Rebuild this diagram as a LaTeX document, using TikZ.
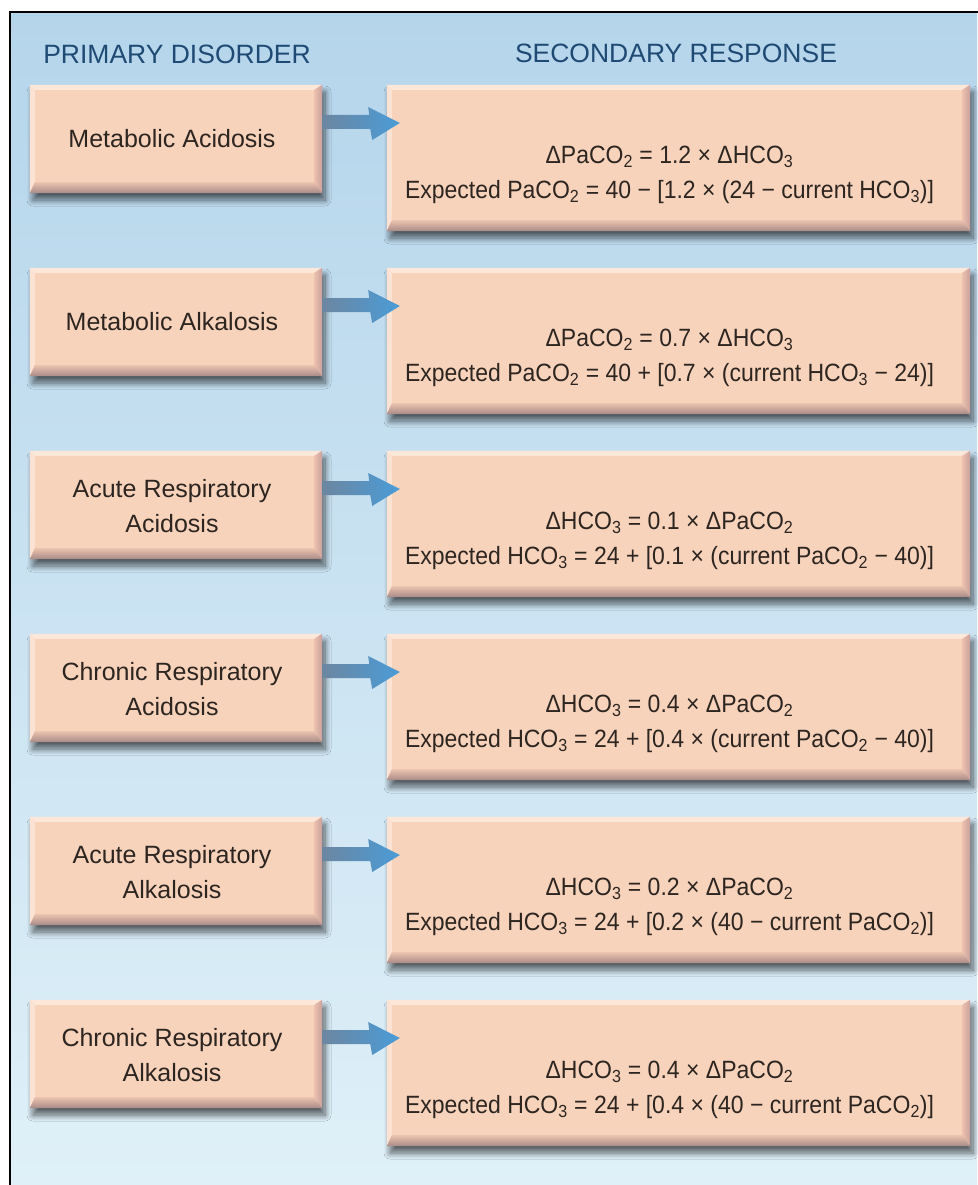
\documentclass[tikz,border=0pt]{standalone}
\usepackage{fontspec}
\setmainfont{Liberation Sans}
\newfontfamily\condfont[FakeStretch=0.92]{Liberation Sans}
\usetikzlibrary{shadows.blur,calc}
\definecolor{bgtop}{HTML}{B5D5EB}
\definecolor{bgbot}{HTML}{DFF0F8}
\definecolor{peach}{HTML}{F7D3BC}
\definecolor{bevT}{HTML}{FCE7D9}
\definecolor{bevL}{HTML}{FBE2D2}
\definecolor{bevRa}{HTML}{EDC2AE}
\definecolor{bevRb}{HTML}{C9A09C}
\definecolor{bevBa}{HTML}{EBC3AE}
\definecolor{bevBb}{HTML}{A98A88}
\definecolor{headc}{HTML}{1F4A74}
\definecolor{txt}{HTML}{2D2520}
\definecolor{arrL}{HTML}{6C86A0}
\definecolor{arrR}{HTML}{4A9CD8}
\tikzset{
  boxbase/.style={fill=peach, inner sep=0pt,
    blur shadow={shadow xshift=3pt, shadow yshift=-7pt, shadow blur radius=6pt, shadow blur steps=12, shadow opacity=60}},
  lbox/.style={boxbase, minimum width=292pt, minimum height=108pt},
  rbox/.style={boxbase, minimum width=583pt, minimum height=146pt},
  ltext/.style={inner sep=0pt, text=txt, align=center, font=\fontsize{25}{35}\selectfont},
  rtext/.style={inner sep=0pt, text=txt, align=center, font=\condfont\fontsize{25}{35}\selectfont},
  head/.style={text=headc, font=\fontsize{26.5}{30}\selectfont, inner sep=0pt},
}
\newcommand\bevel[1]{%
  \fill[bevT] (#1.north west) -- (#1.north east) -- ($(#1.north east)+(-8,5)$) -- ($(#1.north west)+(5,5)$) -- cycle;
  \fill[bevL] (#1.north west) -- ($(#1.north west)+(5,5)$) -- ($(#1.south west)+(5,-11)$) -- (#1.south west) -- cycle;
  \shade[left color=bevRa, right color=bevRb] (#1.north east) -- ($(#1.north east)+(-8,5)$) -- ($(#1.south east)+(-8,-11)$) -- (#1.south east) -- cycle;
  \shade[top color=bevBa, bottom color=bevBb] (#1.south west) -- ($(#1.south west)+(5,-11)$) -- ($(#1.south east)+(-8,-11)$) -- (#1.south east) -- cycle;
}
\newcommand\conn[3]{%
  \coordinate (#3) at ($(#1.east)+(0,-17)$);
  \shade[left color=arrL, right color=arrR]
    ($(#3)+(0,-7)$) -- ($(#3)+(47,-7)$) -- ($(#3)+(46,-15)$) -- ($(#2.west |- #3)+(13,1)$)
    -- ($(#3)+(50,18)$) -- ($(#3)+(48,7)$) -- ($(#3)+(0,7)$) -- cycle;
}
\newcommand\sub[1]{\textsubscript{#1}}
\begin{document}
\begin{tikzpicture}[x=1pt,y=-1pt]
\useasboundingbox (0,0) rectangle (977,1185);
\fill[white] (0,0) rectangle (977,1185);
\shade[top color=bgtop, bottom color=bgbot] (10,12) rectangle (977,1185);
\draw[line width=2pt, line cap=rect] (10,1185) -- (10,12) -- (977,12);

\node[head] (h1) at (177,54) {PRIMARY DISORDER};
\node[head] (h2) at (676,53) {SECONDARY RESPONSE};

% row 1
\node[lbox] (d1) at (176,139) {};
\node[rbox] (r1) at (678.5,158) {};
% row 2
\node[lbox] (d2) at (176,322) {};
\node[rbox] (r2) at (678.5,341) {};
% row 3
\node[lbox] (d3) at (176,505) {};
\node[rbox] (r3) at (678.5,524) {};
% row 4
\node[lbox] (d4) at (176,688) {};
\node[rbox] (r4) at (678.5,707) {};
% row 5
\node[lbox] (d5) at (176,871) {};
\node[rbox] (r5) at (678.5,890) {};
% row 6
\node[lbox] (d6) at (176,1054) {};
\node[rbox] (r6) at (678.5,1073) {};

\foreach \n in {d1,r1,d2,r2,d3,r3,d4,r4,d5,r5,d6,r6} {\bevel{\n}}

\node[ltext] (t1) at ($(d1.center)+(-4,0)$) {Metabolic Acidosis};
\node[ltext] (t2) at ($(d2.center)+(-4,0)$) {Metabolic Alkalosis};
\node[ltext] (t3) at ($(d3.center)+(-4,1)$) {Acute Respiratory\\Acidosis};
\node[ltext] (t4) at ($(d4.center)+(-4,1)$) {Chronic Respiratory\\Acidosis};
\node[ltext] (t5) at ($(d5.center)+(-4,1)$) {Acute Respiratory\\Alkalosis};
\node[ltext] (t6) at ($(d6.center)+(-4,1)$) {Chronic Respiratory\\Alkalosis};

\node[rtext] (e1) at ($(r1.center)+(-9,17)$) {ΔPaCO\sub{2} = 1.2 × ΔHCO\sub{3}\\Expected PaCO\sub{2} = 40 − [1.2 × (24 − current HCO\sub{3})]};
\node[rtext] (e2) at ($(r2.center)+(-9,17)$) {ΔPaCO\sub{2} = 0.7 × ΔHCO\sub{3}\\Expected PaCO\sub{2} = 40 + [0.7 × (current HCO\sub{3} − 24)]};
\node[rtext] (e3) at ($(r3.center)+(-9,17)$) {ΔHCO\sub{3} = 0.1 × ΔPaCO\sub{2}\\Expected HCO\sub{3} = 24 + [0.1 × (current PaCO\sub{2} − 40)]};
\node[rtext] (e4) at ($(r4.center)+(-9,17)$) {ΔHCO\sub{3} = 0.4 × ΔPaCO\sub{2}\\Expected HCO\sub{3} = 24 + [0.4 × (current PaCO\sub{2} − 40)]};
\node[rtext] (e5) at ($(r5.center)+(-9,17)$) {ΔHCO\sub{3} = 0.2 × ΔPaCO\sub{2}\\Expected HCO\sub{3} = 24 + [0.2 × (40 − current PaCO\sub{2})]};
\node[rtext] (e6) at ($(r6.center)+(-9,17)$) {ΔHCO\sub{3} = 0.4 × ΔPaCO\sub{2}\\Expected HCO\sub{3} = 24 + [0.4 × (40 − current PaCO\sub{2})]};

\conn{d1}{r1}{a1}
\conn{d2}{r2}{a2}
\conn{d3}{r3}{a3}
\conn{d4}{r4}{a4}
\conn{d5}{r5}{a5}
\conn{d6}{r6}{a6}
\end{tikzpicture}
\end{document}
